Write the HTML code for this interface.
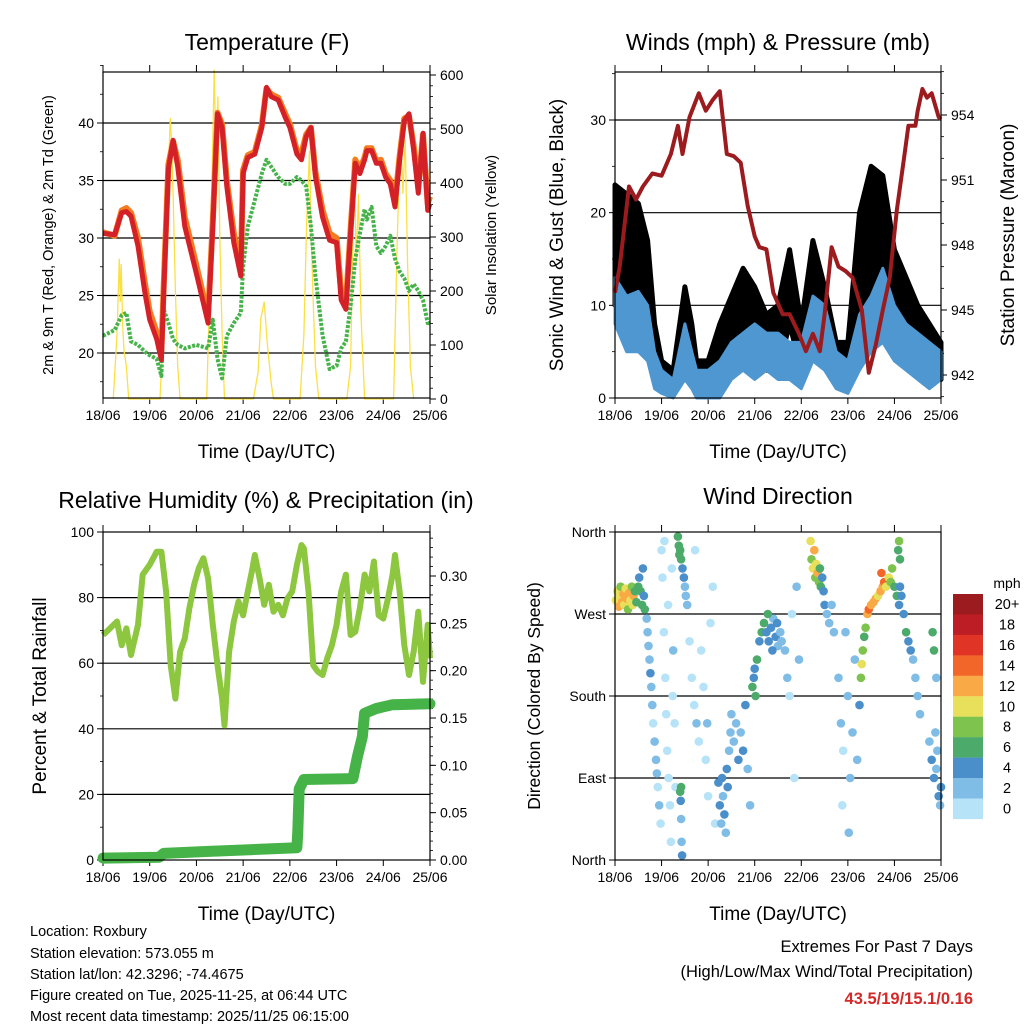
<!DOCTYPE html>
<html><head><meta charset="utf-8"><style>
body{margin:0;background:#fff}
svg{display:block;font-family:"Liberation Sans",sans-serif}
</style></head><body>
<svg id="s" width="1024" height="1024" viewBox="0 0 1024 1024" xmlns="http://www.w3.org/2000/svg">
<g font-size="23" text-anchor="middle" fill="#000">
<text x="267" y="50">Temperature (F)</text>
<text x="778" y="50">Winds (mph) &amp; Pressure (mb)</text>
<text x="266" y="508">Relative Humidity (%) &amp; Precipitation (in)</text>
<text x="778" y="504">Wind Direction</text>
</g>
<g font-size="14.5" fill="#000">
<text x="30" y="936">Location: Roxbury</text>
<text x="30" y="958">Station elevation: 573.055 m</text>
<text x="30" y="979">Station lat/lon: 42.3296; -74.4675</text>
<text x="30" y="1000">Figure created on Tue, 2025-11-25, at 06:44 UTC</text>
<text x="30" y="1021">Most recent data timestamp: 2025/11/25 06:15:00</text>
</g>
<g font-size="16.5" text-anchor="end">
<text x="973" y="952">Extremes For Past 7 Days</text>
<text x="973" y="977">(High/Low/Max Wind/Total Precipitation)</text>
<text x="973" y="1004" font-weight="bold" fill="#d42a2a">43.5/19/15.1/0.16</text>
</g>
</svg>
<script>
// ---------- data ----------
const dayLabels=["18/06","19/06","20/06","21/06","22/06","23/06","24/06","25/06"];
const tempT=[0,0.25,0.4,0.5,0.6,0.75,0.9,1.0,1.15,1.25,1.3,1.4,1.5,1.6,1.75,2.0,2.25,2.35,2.45,2.55,2.65,2.8,2.95,3.0,3.1,3.25,3.4,3.5,3.6,3.75,3.9,4.0,4.15,4.25,4.35,4.45,4.55,4.7,4.85,5.0,5.1,5.2,5.3,5.4,5.5,5.6,5.65,5.75,5.85,5.95,6.05,6.15,6.25,6.35,6.45,6.55,6.65,6.75,6.85,6.95,7.0];
const temp2m=[30.4,30.3,32.2,32.3,31.9,29.3,25.2,22.9,21.2,19.4,25.2,36,38.5,36.2,31,26.9,22.6,31,40.8,39.6,34.5,29.6,26.7,35.6,37,37.3,39.6,43.1,42.3,42,40.5,39.6,37.3,36.8,38.8,39.6,35.3,31.8,29.8,29.6,24.6,23.8,30.4,36.5,35.6,36.8,37.6,37.6,36.5,36.5,35.3,34.7,32.7,36.8,40.2,40.8,37.6,33.9,39.1,32.4,33];
const temp9m=[30.5,30.2,32.4,32.6,32.2,30.0,26.0,23.6,21.8,20.2,25.8,36.4,38.4,36.8,31.8,27.6,23.2,31.5,40.9,39.9,35.0,30.4,27.4,35.9,37.2,37.5,39.8,43.0,42.5,42.2,40.8,39.9,37.6,37.4,39.0,39.6,35.7,32.4,30.4,30.0,25.2,24.3,30.8,36.8,36.0,37.0,37.8,37.8,36.7,36.8,35.6,35.0,33.1,37.1,40.4,40.6,38.0,34.4,39.0,33.0,33.6];
const dewT=[21.5,22,23.3,23.5,21,20.7,20.1,19.8,19.5,18,23.8,22.6,21.2,20.7,20.4,20.7,20.4,22.9,19.5,17.8,21.5,22.6,23.5,27.5,31,33.3,35.6,36.8,36.2,35.3,34.7,34.7,35.3,35,34.5,31,26.6,21.5,18.6,18.9,20.4,21,24.1,28.2,30.4,32.5,31.6,32.7,29.3,28.7,29.3,30.2,28.2,27.1,26.5,25.4,26,25.4,24.6,22.6,22.6];
const solarT=[0.22,0.3,0.35,0.37,0.39,0.42,0.45,0.5,0.55,1.22,1.3,1.38,1.44,1.47,1.5,1.55,1.6,1.65,2.22,2.3,2.38,2.42,2.46,2.5,2.55,2.6,3.22,3.32,3.38,3.45,3.52,3.6,3.65,4.22,4.3,4.36,4.42,4.46,4.5,4.55,4.62,5.22,5.3,5.38,5.42,5.47,5.52,5.6,6.22,6.3,6.37,6.42,6.47,6.52,6.58,6.65];
const solarV=[0,120,260,180,250,140,90,60,0,0,150,380,520,470,380,200,60,0,0,250,610,450,560,300,120,0,0,50,150,180,100,30,0,0,120,330,460,300,180,60,0,0,60,450,250,380,160,0,0,300,500,380,480,250,60,0];
const windT=[0,0.25,0.5,0.7,0.85,1.0,1.25,1.5,1.65,1.75,2.0,2.25,2.5,2.75,3.0,3.25,3.5,3.75,4.0,4.25,4.5,4.75,5.0,5.25,5.5,5.75,6.0,6.25,6.5,6.75,7.0];
const windLo=[8,5,5,4,1,0.5,0,2,1,0,0,0,2,3,2,3,2,2,1,4,3,1,0.5,3,5,6,4,3,2,1,2];
const windHi=[13,11,11.5,10,5,3,2,8,5,3,3,4,6,7,8,7,7,6,6,11,10,5,4,9,11,14,10,8,7,6,5];
const gustLo=[10,10,11,7,3,1.5,1,5,3,1,1,2,5,5,5,3,3,8,3,7,4,2,2,8,12,10,6,4,3,2,2];
const gustHi=[23,22,21,17,8,4,3,12,8,4,4,8,11,14,12,9,10,16,8,17,12,6,6,20,25,24,16,13,10,8,6];
const presT=[0,0.1,0.3,0.45,0.6,0.8,1.0,1.2,1.35,1.45,1.6,1.8,1.95,2.1,2.25,2.4,2.55,2.7,2.85,3.0,3.1,3.25,3.4,3.6,3.75,3.95,4.1,4.25,4.4,4.5,4.65,4.8,4.95,5.1,5.3,5.45,5.6,5.75,5.9,6.05,6.2,6.3,6.45,6.5,6.6,6.7,6.8,6.95,7.0];
const presV=[945.8,947,950.7,950.1,950.7,951.3,951.2,952.2,953.5,952.2,953.9,955,954.2,954.7,955.1,952.2,952.1,951.8,949.8,948.4,947.9,947.8,945.8,944.8,944.8,943.9,943.1,943.9,943.1,944.8,947.9,947,946.8,946.5,945,942.1,943.4,945,946.5,949.6,951.9,953.5,953.5,954.2,955.2,954.8,955,953.9,953.8];
const rhT=[0,0.15,0.3,0.4,0.5,0.6,0.75,0.85,1.0,1.15,1.25,1.35,1.45,1.55,1.65,1.75,1.85,1.95,2.05,2.15,2.25,2.35,2.45,2.55,2.6,2.7,2.8,2.9,3.0,3.1,3.2,3.25,3.35,3.45,3.55,3.65,3.75,3.85,3.95,4.05,4.15,4.25,4.3,4.4,4.5,4.6,4.7,4.8,4.9,5.0,5.1,5.2,5.3,5.4,5.5,5.6,5.7,5.8,5.9,6.0,6.1,6.2,6.25,6.35,6.45,6.55,6.65,6.75,6.85,6.95,7.0];
const rhV=[68.6,70.6,72.7,65.5,70.6,62.5,71.7,87,90,94,94,81.9,59.4,49.2,63.5,67.6,76.8,83.9,89,92,85.9,71.7,59.4,49.2,41,63.5,72.7,78.8,74.6,81.9,89,93,86,77.8,83.9,75.7,77.8,74.6,79.8,81.9,90,96,95,81.9,59.4,57.4,56.4,61.5,65.5,71.7,81.9,87,68.6,69.6,76.8,87,81.9,91,74.6,73.6,79.8,87,93,81.9,65.5,56.4,63.5,75.7,54.3,71.7,61.5];
const rainT=[0,1.2,1.3,2.2,3.2,4.15,4.17,4.2,4.3,5.35,5.45,5.55,5.6,5.85,6.2,7.0];
const rainV=[0.002,0.003,0.007,0.009,0.011,0.013,0.03,0.075,0.085,0.086,0.11,0.13,0.155,0.16,0.164,0.165];
const wdT=[0.02,0.05,0.08,0.1,0.12,0.15,0.18,0.2,0.23,0.25,0.28,0.3,0.33,0.36,0.38,0.4,0.43,0.46,0.5,0.52,0.55,0.58,0.6,0.62,0.64,
0.68,0.7,0.72,0.74,0.76,0.78,0.8,0.82,0.85,0.88,0.9,0.92,0.95,0.98,
1.0,1.02,1.05,1.08,1.1,1.12,1.15,1.18,1.2,1.22,1.25,1.28,1.3,1.06,1.14,1.24,
1.35,1.37,1.4,1.42,1.45,1.48,1.5,1.52,1.55,1.38,1.4,1.42,1.41,1.42,1.43,1.44,
1.6,1.65,1.7,1.75,1.8,1.85,1.9,1.95,2.0,2.05,2.1,2.15,1.72,1.98,
2.22,2.25,2.28,2.3,2.32,2.35,2.38,2.4,2.42,2.45,2.48,2.5,2.55,2.6,
2.65,2.7,2.75,2.8,2.85,2.9,2.95,2.98,3.0,3.05,3.1,3.15,3.02,
3.2,3.25,3.3,3.35,3.4,3.45,3.5,3.55,3.28,3.38,3.48,3.58,
3.65,3.7,3.75,3.8,3.85,3.9,3.95,
4.2,4.22,4.25,4.28,4.3,4.32,4.35,4.38,4.4,4.42,4.45,4.48,4.5,
4.55,4.6,4.65,4.7,
4.8,4.85,4.9,4.95,5.0,5.05,5.1,5.15,5.2,4.88,5.02,
5.25,5.28,5.3,5.32,5.35,5.38,
5.42,5.45,5.5,5.55,5.6,5.65,5.7,5.75,5.78,5.72,
5.82,5.88,5.92,5.95,6.0,6.05,6.1,6.12,6.15,6.08,6.1,6.12,
6.2,6.25,6.3,6.35,6.4,6.45,6.5,6.55,
6.75,6.8,6.85,6.9,6.95,7.0,6.88,6.92,6.98,6.82,6.85,6.9];
const wdDir=[285,295,278,290,300,283,292,280,298,287,275,293,285,300,280,290,295,283,300,310,295,280,320,290,275,
265,250,235,220,205,190,170,150,130,110,95,80,60,40,
340,310,250,200,160,120,90,60,20,320,230,150,80,350,280,180,
355,345,340,330,320,310,300,290,280,335,75,80,65,45,20,5,
240,200,170,150,130,230,190,110,70,260,300,40,340,150,
85,60,40,90,70,50,30,100,80,120,140,160,130,150,
110,140,120,170,100,60,190,200,210,220,240,250,180,
260,250,240,255,265,245,235,250,270,230,260,240,
230,200,180,270,90,300,220,
350,330,320,340,310,325,315,305,320,300,310,295,280,
270,260,280,250,
200,150,120,250,180,90,140,220,110,60,30,
170,200,215,230,245,255,
270,275,280,283,287,290,295,300,305,315,
300,310,305,320,300,290,280,300,290,340,350,330,
270,250,240,230,220,200,180,160,
130,110,90,100,70,80,140,120,60,250,230,200];
const wdSpd=[11,10,12,11,9,12,12,10,11,12,9,12,11,8,10,12,6,7,6,5,7,6,4,5,7,
3,2,3,3,4,2,2,1,2,3,2,1,2,1,
0,1,0,1,0,0,1,0,0,0,2,1,0,0,1,0,
7,6,6,6,5,4,3,3,2,7,6,7,4,3,3,4,
1,1,0,2,1,0,1,0,1,0,0,0,0,2,
4,4,3,4,3,4,3,4,4,3,3,3,3,3,
4,3,4,4,3,3,6,5,4,6,5,6,6,
7,5,4,4,3,4,3,3,6,5,4,2,
3,2,0,1,1,2,2,
10,8,11,12,9,11,12,8,7,6,5,4,4,
3,2,3,2,
2,2,1,2,2,3,2,3,2,1,2,
4,8,10,8,7,8,
12,14,12,13,12,10,12,13,15,14,
10,10,9,8,6,6,5,4,4,7,8,6,
4,6,4,5,3,3,2,3,
3,4,4,3,4,4,3,3,3,6,6,2];
const speedColors=["#b7e3f8","#7fbce6","#4a8fca","#4caa6a","#7ec34e","#e8e05a","#f9a945","#f26729","#e03426","#bd1d24","#9b1b1e"];
const speedLabels=["0","2","4","6","8","10","12","14","16","18","20+"];

// ---------- helpers ----------
const NS="http://www.w3.org/2000/svg";
const svg=document.getElementById('s');
function mk(tag,attrs,parent){const e=document.createElementNS(NS,tag);for(const k in attrs)e.setAttribute(k,attrs[k]);(parent||svg).appendChild(e);return e;}
function scale(d0,d1,r0,r1){return v=>r0+(v-d0)*(r1-r0)/(d1-d0);}
function pts(ts,vs,sx,sy){return ts.map((t,i)=>sx(t).toFixed(1)+","+sy(vs[i]).toFixed(1)).join(" ");}
function band(ts,lo,hi,sx,sy){const a=ts.map((t,i)=>sx(t).toFixed(1)+","+sy(hi[i]).toFixed(1));const b=ts.map((t,i)=>sx(t).toFixed(1)+","+sy(lo[i]).toFixed(1)).reverse();return a.concat(b).join(" ");}

function frame(name,x0,y0,x1,y1,opts){
  const g=mk('g',{});
  
  
  const sx=scale(0,7,x0,x1);
  opts.grid.forEach(v=>{const y=opts.sy(v);const l=mk('line',{x1:x0,x2:x1,y1:y,y2:y,stroke:'#000','stroke-width':1.2},g);
    
    });
  opts.lt.forEach((v,i)=>{const y=opts.sy(v);mk('line',{x1:x0-6,x2:x0,y1:y,y2:y,stroke:'#000'},g);
    const t=mk('text',{x:x0-9,y:y+5,'font-size':14,'text-anchor':'end'},g);t.textContent=opts.ll[i];
    
    });
  (opts.lm||[]).forEach(v=>{const y=opts.sy(v);mk('line',{x1:x0-3,x2:x0,y1:y,y2:y,stroke:'#000','stroke-width':0.8},g);});
  if(opts.rsy){
    opts.rt.forEach((v,i)=>{const y=opts.rsy(v);mk('line',{x1:x1,x2:x1+6,y1:y,y2:y,stroke:'#000'},g);
      const t=mk('text',{x:x1+10,y:y+5,'font-size':14},g);t.textContent=opts.rl[i];
      
      });
    (opts.rm||[]).forEach(v=>{const y=opts.rsy(v);mk('line',{x1:x1,x2:x1+3,y1:y,y2:y,stroke:'#000','stroke-width':0.8},g);});
  }
  dayLabels.forEach((lab,i)=>{const x=sx(i);
    mk('line',{x1:x,x2:x,y1:y1,y2:y1+6,stroke:'#000'},g);
    mk('line',{x1:x,x2:x,y1:y0-7,y2:y0,stroke:'#000'},g);
    const t=mk('text',{x:x,y:y1+22,'font-size':14,'text-anchor':'middle'},g);t.textContent=lab;
    
    });
  const xt=mk('text',{x:(x0+x1)/2,y:y1+60,'font-size':19,'text-anchor':'middle'},g);xt.textContent='Time (Day/UTC)';
  
  
  return {sx,g};
}
function border(x0,y0,x1,y1){const r=mk('rect',{x:x0,y:y0,width:x1-x0,height:y1-y0,fill:'none',stroke:'#000','stroke-width':1.2});
  
  }
function ytitle(txt,x,y,fs,name){const t=mk('text',{x:0,y:0,'font-size':fs,'text-anchor':'middle',transform:`translate(${x},${y}) rotate(-90)`});t.textContent=txt;
  
  }
function range(a,b,s){const r=[];for(let v=a;v<=b+1e-9;v+=s)r.push(+v.toFixed(4));return r;}

// ---------- Panel 1: temperature ----------
{
  const X0=103,X1=430,Y0=72,Y1=398;
  const sy=scale(20,40,353,123), ry=scale(0,600,399,75);
  const {sx}=frame('temperature',X0,Y0,X1,Y1,{sy,grid:[20,25,30,35,40],lt:[20,25,30,35,40],ll:["20","25","30","35","40"],lm:range(17.5,45,2.5),
    rsy:ry,rt:[0,100,200,300,400,500,600],rl:["0","100","200","300","400","500","600"],rm:range(0,610,20)});
  const so=mk('polyline',{points:pts(solarT,solarV,sx,ry),fill:'none',stroke:'#fbe043','stroke-width':1.3});
  
  
  const dw=mk('polyline',{points:pts(tempT,dewT,sx,sy),fill:'none',stroke:'#46b34a','stroke-width':4,'stroke-dasharray':'3 1.5','stroke-linejoin':'round'});
  
  
  const o=mk('polyline',{points:pts(tempT,temp9m,sx,sy),fill:'none',stroke:'#f47b20','stroke-width':6,'stroke-linejoin':'round'});
  
  
  const r=mk('polyline',{points:pts(tempT,temp2m,sx,sy),fill:'none',stroke:'#d42027','stroke-width':5,'stroke-linejoin':'round'});
  
  
  border(X0,Y0,X1,Y1);
  ytitle('2m & 9m T (Red, Orange) & 2m Td (Green)',53,235,14.5,'temperature-y-title');
  ytitle('Solar Insolation (Yellow)',496,235,15,'solar-y-title');
}
// ---------- Panel 2: winds ----------
{
  const X0=615,X1=941,Y0=72,Y1=398;
  const sy=scale(0,30,398,120), ry=scale(942,954,375,115);
  const {sx}=frame('winds',X0,Y0,X1,Y1,{sy,grid:[10,20,30],lt:[0,10,20,30],ll:["0","10","20","30"],lm:range(0,35,5),
    rsy:ry,rt:[942,945,948,951,954],rl:["942","945","948","951","954"],rm:range(941,956,1)});
  const gb=mk('polygon',{points:band(windT,gustLo,gustHi,sx,sy),fill:'#000',stroke:'#000','stroke-width':5,'stroke-linejoin':'round'});
  
  
  const wb=mk('polygon',{points:band(windT,windLo,windHi,sx,sy),fill:'#4f97d0',stroke:'#4f97d0','stroke-width':3,'stroke-linejoin':'round'});
  
  
  const p=mk('polyline',{points:pts(presT,presV,sx,ry),fill:'none',stroke:'#9b1b1e','stroke-width':4,'stroke-linejoin':'round'});
  
  
  border(X0,Y0,X1,Y1);
  ytitle('Sonic Wind & Gust (Blue, Black)',563,235,19,'wind-y-title');
  ytitle('Station Pressure (Maroon)',1014,235,19,'pressure-y-title');
}
// ---------- Panel 3: humidity ----------
{
  const X0=103,X1=430,Y0=532,Y1=860;
  const sy=scale(0,100,860,532), ry=scale(0,0.3,860,576);
  const {sx}=frame('humidity',X0,Y0,X1,Y1,{sy,grid:[20,40,60,80],lt:[0,20,40,60,80,100],ll:["0","20","40","60","80","100"],lm:range(0,100,10),
    rsy:ry,rt:[0,0.05,0.1,0.15,0.2,0.25,0.3],rl:["0.00","0.05","0.10","0.15","0.20","0.25","0.30"],rm:range(0,0.34,0.01)});
  const rh=mk('polyline',{points:pts(rhT,rhV,sx,sy),fill:'none',stroke:'#8dc63f','stroke-width':6,'stroke-linejoin':'round'});
  
  
  const rn=mk('polyline',{points:pts(rainT,rainV,sx,ry),fill:'none',stroke:'#45b347','stroke-width':11,'stroke-linejoin':'round','stroke-linecap':'round'});
  
  
  border(X0,Y0,X1,Y1);
  ytitle('Percent & Total Rainfall',46,696,19,'humidity-y-title');
}
// ---------- Panel 4: wind direction ----------
{
  const X0=615,X1=941,Y0=532,Y1=860;
  const sy=scale(0,360,860,532);
  const {sx}=frame('direction',X0,Y0,X1,Y1,{sy,grid:[90,180,270],lt:[0,90,180,270,360],ll:["North","East","South","West","North"]});
  const g=mk('g',{});
  
  
  wdT.forEach((t,i)=>{
    const c=mk('circle',{cx:sx(t).toFixed(1),cy:sy(wdDir[i]).toFixed(1),r:4.3,fill:speedColors[Math.min(10,Math.floor(wdSpd[i]/2))]},g);
    
    
  });
  border(X0,Y0,X1,Y1);
  ytitle('Direction (Colored By Speed)',540,696,17.5,'direction-y-title');
  const cb=mk('g',{});
  
  
  const mt=mk('text',{x:1007,y:588,'font-size':14,'text-anchor':'middle'},cb);mt.textContent='mph';
  
  
  for(let k=0;k<11;k++){
    const idx=10-k, y=594+k*20.45;
    const rc=mk('rect',{x:953,y:y,width:30,height:20.6,fill:speedColors[idx]},cb);
    
    
    const tl=mk('text',{x:1007,y:y+15,'font-size':14.5,'text-anchor':'middle'},cb);tl.textContent=speedLabels[idx];
    
    
  }
}
</script>
</body></html>
